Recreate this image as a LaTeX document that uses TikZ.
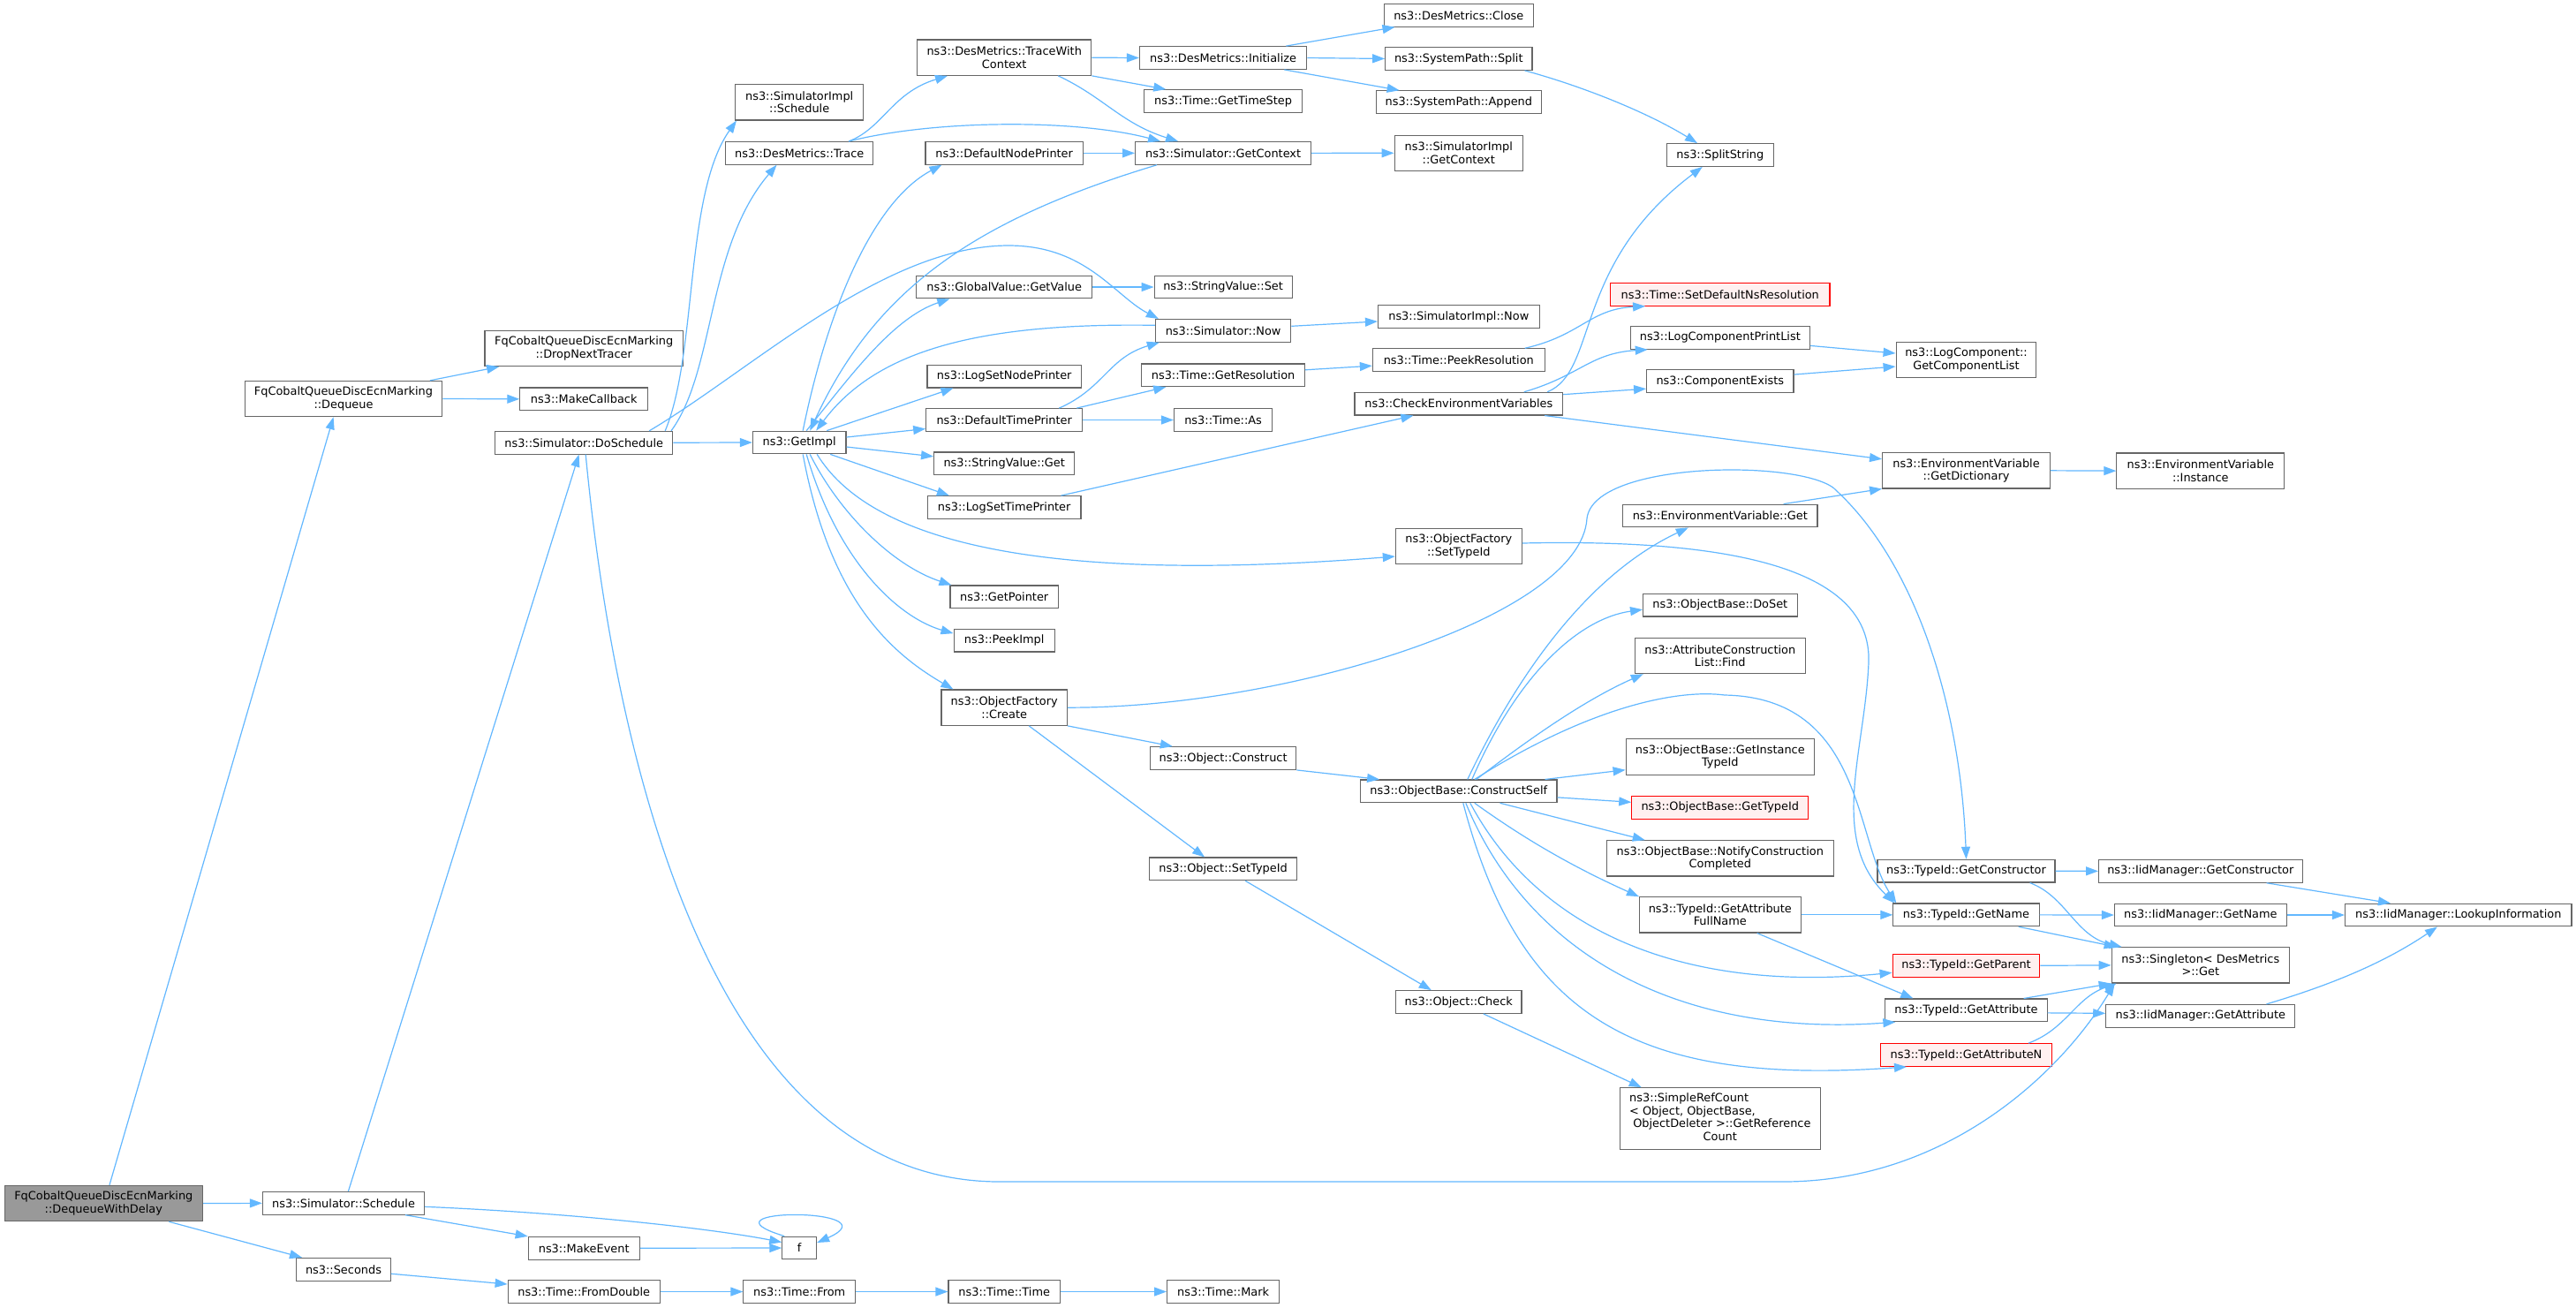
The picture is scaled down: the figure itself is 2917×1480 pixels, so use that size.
\documentclass[tikz,border=0pt]{standalone}
\usepackage{fontspec}
\setmainfont{DejaVu Sans}
\usetikzlibrary{arrows.meta,calc}
\definecolor{edgec}{HTML}{63B8FF}
\definecolor{bordc}{HTML}{666666}
\definecolor{redfill}{HTML}{FFF0F0}
\definecolor{rootfill}{HTML}{999999}
\tikzset{
  box/.style={draw=bordc, line width=0.55pt, fill=white, inner xsep=1pt, inner ysep=0.5pt,
    align=center, font=\fontsize{6.45pt}{7.3pt}\selectfont, text=black},
  rednode/.style={draw=red, fill=redfill},
  rootnode/.style={fill=rootfill},
  conn/.style={draw=edgec, line width=0.6pt, -{Triangle[length=7pt,width=5pt]}},
}
\newcommand\nbox[7][]{\node[box,#1,minimum width={#5*0.5pt},minimum height={#6*0.5pt}] (#2) at (#3,#4) {#7};}
\begin{document}
\begin{tikzpicture}[x=0.5pt,y=-0.5pt]
\fill[white] (0,0) rectangle (2917,1480);
\useasboundingbox (0,0) rectangle (2917,1480);
% nodes
\nbox[rootnode]{root}{117.35}{1362.5}{224.5}{40.4}{FqCobaltQueueDiscEcnMarking\\::DequeueWithDelay}
\nbox{deq}{389}{451.5}{223.4}{40.3}{FqCobaltQueueDiscEcnMarking\\::Dequeue}
\nbox{drop}{661.2}{394.5}{224.5}{40.3}{FqCobaltQueueDiscEcnMarking\\::DropNextTracer}
\nbox{mkcb}{661.2}{451.8}{144.7}{25.7}{ns3::MakeCallback}
\nbox{dosch}{661.2}{501.2}{201}{25.7}{ns3::Simulator::DoSchedule}
\nbox{sched}{389}{1362.3}{183.2}{25.7}{ns3::Simulator::Schedule}
\nbox{mkev}{661.2}{1413.2}{126}{25.7}{ns3::MakeEvent}
\nbox{secs}{389}{1437.2}{106.6}{25.7}{ns3::Seconds}
\nbox{fromd}{661.2}{1462.5}{172}{25.7}{ns3::Time::FromDouble}
\nbox{f}{905.2}{1413}{38.8}{25.7}{f}
\nbox{tfrom}{905.2}{1462.5}{126.6}{25.7}{ns3::Time::From}
\nbox{ttime}{1137.2}{1462.5}{126.5}{25.7}{ns3::Time::Time}
\nbox{tmark}{1385.1}{1462.5}{127.1}{25.7}{ns3::Time::Mark}
\nbox{simpsched}{905.2}{115.85}{145.4}{40.3}{ns3::SimulatorImpl\\::Schedule}
\nbox{trace}{905.2}{173.35}{166.9}{25.7}{ns3::DesMetrics::Trace}
\nbox{twc}{1137.2}{65.15}{197.3}{40.3}{ns3::DesMetrics::TraceWith\\Context}
\nbox{init}{1385.1}{65.5}{189.3}{25.7}{ns3::DesMetrics::Initialize}
\nbox{gts}{1385.1}{114.5}{178.6}{25.7}{ns3::Time::GetTimeStep}
\nbox{dnp}{1137.2}{173.35}{178.5}{25.7}{ns3::DefaultNodePrinter}
\nbox{getctx}{1385.1}{173.35}{199}{25.7}{ns3::Simulator::GetContext}
\nbox{gvget}{1137.2}{325}{198.6}{25.7}{ns3::GlobalValue::GetValue}
\nbox{svset}{1385.1}{325}{156}{25.7}{ns3::StringValue::Set}
\nbox{now}{1385.1}{374.3}{153.4}{25.7}{ns3::Simulator::Now}
\nbox{lsnp}{1137.2}{426.1}{174.4}{25.7}{ns3::LogSetNodePrinter}
\nbox{getres}{1385.1}{424.8}{184.6}{25.7}{ns3::Time::GetResolution}
\nbox{dtp}{1137.2}{475.5}{177}{25.7}{ns3::DefaultTimePrinter}
\nbox{tas}{1385.1}{475.5}{111.2}{25.7}{ns3::Time::As}
\nbox{getimpl}{905.2}{501}{105.6}{25.7}{ns3::GetImpl}
\nbox{svget}{1137.2}{524.8}{159.2}{25.7}{ns3::StringValue::Get}
\nbox{close}{1651.8}{17.3}{169.5}{25.7}{ns3::DesMetrics::Close}
\nbox{spsplit}{1651.8}{66.45}{166.3}{25.7}{ns3::SystemPath::Split}
\nbox{spappend}{1651.8}{115.65}{187.2}{25.7}{ns3::SystemPath::Append}
\nbox{simplctx}{1651.8}{173.3}{145.4}{40.3}{ns3::SimulatorImpl\\::GetContext}
\nbox{splitstr}{1947.8}{175.5}{120.5}{25.7}{ns3::SplitString}
\nbox[rednode]{setdef}{1947.8}{333.3}{248.4}{25.7}{ns3::Time::SetDefaultNsResolution}
\nbox{simplnow}{1651.8}{358.45}{182.6}{25.7}{ns3::SimulatorImpl::Now}
\nbox{lcpl}{1947.8}{382.4}{203.1}{25.7}{ns3::LogComponentPrintList}
\nbox{peekres}{1651.8}{407.65}{194.8}{25.7}{ns3::Time::PeekResolution}
\nbox{getcl}{2226.5}{407.7}{158.8}{40.3}{ns3::LogComponent::\\GetComponentList}
\nbox{compex}{1947.8}{431.65}{166.4}{25.7}{ns3::ComponentExists}
\nbox{cev}{1651.8}{457.15}{235.7}{25.7}{ns3::CheckEnvironmentVariables}
\nbox{getdict}{2226.5}{532.8}{189.8}{40.3}{ns3::EnvironmentVariable\\::GetDictionary}
\nbox{inst}{2491.8}{533.15}{189.9}{40.3}{ns3::EnvironmentVariable\\::Instance}
\nbox{lstp}{1137.2}{574.5}{173.5}{25.7}{ns3::LogSetTimePrinter}
\nbox{getptr}{1137.2}{675.85}{122.4}{25.7}{ns3::GetPointer}
\nbox{peekimpl}{1137.2}{725.15}{114.3}{25.7}{ns3::PeekImpl}
\nbox{create}{1137.2}{801.15}{142.4}{40.3}{ns3::ObjectFactory\\::Create}
\nbox{oconstr}{1385.1}{858.5}{165.4}{25.7}{ns3::Object::Construct}
\nbox{osettid}{1385.1}{983.85}{166.9}{25.7}{ns3::Object::SetTypeId}
\nbox{ofsettid}{1651.8}{618.5}{142.9}{40.3}{ns3::ObjectFactory\\::SetTypeId}
\nbox{evget}{1947.8}{584}{220.4}{25.7}{ns3::EnvironmentVariable::Get}
\nbox{doset}{1947.8}{685.15}{174.5}{25.7}{ns3::ObjectBase::DoSet}
\nbox{acfind}{1947.8}{742.5}{192.9}{40.3}{ns3::AttributeConstruction\\List::Find}
\nbox{gitid}{1947.8}{857}{213.4}{40.3}{ns3::ObjectBase::GetInstance\\TypeId}
\nbox{cself}{1651.8}{895.85}{222.3}{25.7}{ns3::ObjectBase::ConstructSelf}
\nbox[rednode]{gettid}{1947.8}{914.3}{200}{25.7}{ns3::ObjectBase::GetTypeId}
\nbox{notify}{1947.8}{971.85}{257.1}{40.3}{ns3::ObjectBase::NotifyConstruction\\Completed}
\nbox{getctor}{2226.5}{986.15}{201}{25.7}{ns3::TypeId::GetConstructor}
\nbox{gafn}{1947.8}{1035.85}{182.6}{40.3}{ns3::TypeId::GetAttribute\\FullName}
\nbox{getname}{2226.5}{1035.85}{165.3}{25.7}{ns3::TypeId::GetName}
\nbox[rednode]{getparent}{2226.5}{1093.3}{166.8}{25.7}{ns3::TypeId::GetParent}
\nbox{getattr}{2226.5}{1143.85}{183.2}{25.7}{ns3::TypeId::GetAttribute}
\nbox[rednode]{getattrn}{2226.5}{1194.5}{193.9}{25.7}{ns3::TypeId::GetAttributeN}
\nbox{ocheck}{1651.8}{1134.5}{142.4}{25.7}{ns3::Object::Check}
\nbox{srefc}{1947.8}{1266.5}{227}{69.6}{\begin{tabular}{@{}l@{}}ns3::SimpleRefCount\\< Object, ObjectBase,\\\ ObjectDeleter >::GetReference\\\multicolumn{1}{@{}c@{}}{Count}\end{tabular}}
\nbox{iidctor}{2491.8}{986.35}{230.5}{25.7}{ns3::IidManager::GetConstructor}
\nbox{iidname}{2491.8}{1036}{194.8}{25.7}{ns3::IidManager::GetName}
\nbox{lookup}{2783.75}{1036}{256.5}{25.7}{ns3::IidManager::LookupInformation}
\nbox{single}{2491.8}{1092.85}{201.2}{40.3}{ns3::Singleton< DesMetrics\\ >::Get}
\nbox{iidattr}{2491.8}{1150.3}{214.1}{25.7}{ns3::IidManager::GetAttribute}
% connectors
\draw[conn] ($(root.north)+(6.6,0)$) -- ($(deq.south)+(-11.4,0)$);
\draw[conn] (root.east) -- (sched.west);
\draw[conn] ($(root.south)+(74,0)$) -- ($(secs.north)+(-47,0)$);
\draw[conn] ($(deq.north)+(98,0)$) -- ($(drop.south)+(-96,0)$);
\draw[conn] (deq.east) -- (mkcb.west);
\draw[conn] ($(sched.north)+(5.4,0)$) -- ($(dosch.south)+(-5.6,0)$);
\draw[conn] ($(sched.south)+(70,0)$) -- (mkev.north west);
\draw[conn] ($(sched.east)+(0,4)$) .. controls (640,1373) and (800,1390) .. ($(f.west)+(0,-6.5)$);
\draw[conn] (mkev.east) -- (f.west);
\draw[conn] ($(f.north west)+(3,0)$) .. controls (781,1367) and (1015,1367) .. ($(f.east)+(0,-6)$);
\draw[conn] ($(secs.east)+(0,5)$) -- ($(fromd.west)+(0,-8.5)$);
\draw[conn] (fromd.east) -- (tfrom.west);
\draw[conn] (tfrom.east) -- (ttime.west);
\draw[conn] (ttime.east) -- (tmark.west);
\draw[conn] ($(dosch.north)+(92,0)$) .. controls (790,400) and (775,220) .. ($(simpsched.south west)+(2,0)$);
\draw[conn] ($(dosch.north)+(98.8,0)$) .. controls (810,420) and (800,280) .. ($(trace.south)+(-25.7,0)$);
\draw[conn] (dosch.east) -- (getimpl.west);
\draw[conn] ($(dosch.north)+(74,0)$) .. controls (850,420) and (1000,278) .. (1142,278) .. controls (1230,278) and (1262,335) .. ($(now.north west)+(4,0)$);
\draw[conn] ($(dosch.south)+(2,0)$) .. controls (700,900) and (820,1338) .. (1132,1338) -- (2019,1338) .. controls (2200,1338) and (2330,1220) .. ($(single.south west)+(4,0)$);
\draw[conn] ($(getimpl.north)+(4,0)$) .. controls (935,360) and (985,230) .. ($(dnp.south west)+(19,0)$);
\draw[conn] ($(getimpl.north)+(8,0)$) .. controls (960,430) and (1010,360) .. ($(gvget.south west)+(38,0)$);
\draw[conn] ($(getimpl.north)+(31,0)$) -- ($(lsnp.south west)+(30,0)$);
\draw[conn] ($(getimpl.east)+(0,-6)$) -- ($(dtp.west)+(0,10)$);
\draw[conn] ($(getimpl.east)+(0,5)$) -- ($(svget.west)+(0,-8)$);
\draw[conn] ($(getimpl.south)+(35,0)$) -- ($(lstp.north west)+(25,0)$);
\draw[conn] ($(getimpl.south)+(12,0)$) .. controls (950,580) and (1010,640) .. ($(getptr.north west)+(2,0)$);
\draw[conn] ($(getimpl.south)+(8,0)$) .. controls (950,640) and (1020,700) .. ($(peekimpl.west)+(0,-8)$);
\draw[conn] ($(getimpl.south)+(4,0)$) .. controls (940,680) and (1010,740) .. ($(create.north west)+(14,0)$);
\draw[conn] ($(getimpl.south)+(20,0)$) .. controls (990,620) and (1200,660) .. ($(ofsettid.west)+(0,11.5)$);
\draw[conn] ($(getctx.south west)+(25,0)$) .. controls (1100,250) and (990,330) .. ($(getimpl.north)+(12,0)$);
\draw[conn] ($(now.west)+(0,-6)$) .. controls (1100,365) and (990,400) .. ($(getimpl.north)+(19,0)$);
\draw[conn] ($(trace.north)+(56,0)$) .. controls (1000,145) and (1010,105) .. ($(twc.south west)+(35,0)$);
\draw[conn] ($(trace.north)+(56,0)$) .. controls (1060,135) and (1220,135) .. ($(getctx.north west)+(29,0)$);
\draw[conn] (twc.east) -- (init.west);
\draw[conn] (twc.south east) -- ($(gts.north west)+(25,0)$);
\draw[conn] ($(twc.south)+(61,0)$) .. controls (1250,110) and (1270,140) .. ($(getctx.north west)+(49,0)$);
\draw[conn] (dnp.east) -- (getctx.west);
\draw[conn] (getctx.east) -- (simplctx.west);
\draw[conn] ($(init.north east)+(-24,0)$) -- ($(close.south west)+(13,0)$);
\draw[conn] (init.east) -- (spsplit.west);
\draw[conn] ($(init.south east)+(-26,0)$) -- ($(spappend.north west)+(27,0)$);
\draw[conn] ($(spsplit.south east)+(-9,0)$) .. controls (1800,100) and (1870,130) .. ($(splitstr.north west)+(35,0)$);
\draw[conn] (gvget.east) -- (svset.west);
\draw[conn] ($(now.east)+(0,-5)$) -- ($(simplnow.west)+(0,5.5)$);
\draw[conn] ($(dtp.north east)+(-27,0)$) .. controls (1250,440) and (1255,405) .. ($(now.south west)+(5,0)$);
\draw[conn] ($(dtp.north east)+(-7,0)$) -- ($(getres.south west)+(28,0)$);
\draw[conn] (dtp.east) -- (tas.west);
\draw[conn] ($(getres.east)+(0,-6)$) -- ($(peekres.west)+(0,6.5)$);
\draw[conn] ($(peekres.north east)+(-23,0)$) .. controls (1790,380) and (1800,350) .. ($(setdef.south west)+(40,0)$);
\draw[conn] ($(lstp.north east)+(-23,0)$) -- ($(cev.south west)+(67,0)$);
\draw[conn] ($(cev.north east)+(-18,0)$) .. controls (1810,420) and (1780,300) .. ($(splitstr.south)+(-20,0)$);
\draw[conn] ($(cev.north)+(74,0)$) .. controls (1790,425) and (1800,400) .. ($(lcpl.south west)+(20,0)$);
\draw[conn] ($(cev.east)+(0,-10.5)$) -- ($(compex.west)+(0,8.5)$);
\draw[conn] ($(cev.south east)+(-21,0)$) -- ($(getdict.west)+(0,-13)$);
\draw[conn] ($(lcpl.east)+(0,9)$) -- ($(getcl.west)+(0,-7.7)$);
\draw[conn] ($(compex.east)+(0,-7.6)$) -- ($(getcl.west)+(0,7.3)$);
\draw[conn] (getdict.east) -- (inst.west);
\draw[conn] ($(evget.north east)+(-39,0)$) -- (getdict.south west);
\draw[conn] (create.east) .. controls (1450,802) and (1790,700) .. (1797,587) .. controls (1805,520) and (2050,520) .. (2080,556) .. controls (2170,640) and (2220,800) .. (getctor.north);
\draw[conn] (create.south east) -- ($(oconstr.north west)+(26,0)$);
\draw[conn] ($(create.south)+(28,0)$) -- ($(osettid.north west)+(63,0)$);
\draw[conn] ($(ofsettid.east)+(0,-3.5)$) .. controls (1950,610) and (2120,640) .. (2116,750) .. controls (2112,850) and (2070,950) .. ($(getname.north west)+(2,0)$);
\draw[conn] ($(cself.north)+(18,0)$) .. controls (1800,800) and (1900,780) .. (1953,787) .. controls (2110,790) and (2100,950) .. ($(getname.north west)+(4,0)$);
\draw[conn] ($(cself.north)+(10,0)$) .. controls (1720,760) and (1800,650) .. ($(evget.south)+(-36,0)$);
\draw[conn] ($(cself.north)+(15,0)$) .. controls (1720,760) and (1790,700) .. ($(doset.west)+(0,5)$);
\draw[conn] ($(cself.north)+(20,0)$) .. controls (1740,830) and (1800,790) .. ($(acfind.south west)+(10,0)$);
\draw[conn] ($(cself.north east)+(-14,0)$) -- ($(gitid.south west)+(0,-6)$);
\draw[conn] ($(cself.east)+(0,7)$) -- ($(gettid.west)+(0,-6)$);
\draw[conn] ($(cself.south east)+(-65,0)$) -- ($(notify.north west)+(44,0)$);
\draw[conn] ($(cself.south)+(18,0)$) .. controls (1740,960) and (1800,990) .. (gafn.north west);
\draw[conn] ($(cself.south)+(13,0)$) .. controls (1740,1050) and (1900,1125) .. ($(getparent.west)+(0,8)$);
\draw[conn] ($(cself.south)+(8,0)$) .. controls (1730,1080) and (1900,1175) .. ($(getattr.south west)+(12,0)$);
\draw[conn] ($(cself.south)+(5,0)$) .. controls (1720,1150) and (1850,1230) .. ($(getattrn.south west)+(30,0)$);
\draw[conn] (oconstr.south east) -- ($(cself.north west)+(22,0)$);
\draw[conn] ($(osettid.south)+(25,0)$) -- ($(ocheck.north)+(-31,0)$);
\draw[conn] ($(ocheck.south)+(28,0)$) -- ($(srefc.north west)+(25,0)$);
\draw[conn] (gafn.east) -- (getname.west);
\draw[conn] ($(gafn.south east)+(-50,0)$) -- ($(getattr.north west)+(32,0)$);
\draw[conn] (getctor.east) -- (iidctor.west);
\draw[conn] ($(getctor.south east)+(-29,0)$) .. controls (2340,1015) and (2350,1060) .. ($(single.north west)+(12,0)$);
\draw[conn] (getname.east) -- (iidname.west);
\draw[conn] ($(getname.south east)+(-24,0)$) -- ($(single.north west)+(6,0)$);
\draw[conn] (getparent.east) -- (single.west);
\draw[conn] ($(getattr.north east)+(-27,0)$) -- (single.south west);
\draw[conn] ($(getattr.east)+(0,3)$) -- ($(iidattr.west)+(0,-3)$);
\draw[conn] ($(getattrn.north east)+(-27,0)$) .. controls (2340,1165) and (2350,1130) .. ($(single.south west)+(6,0)$);
\draw[conn] ($(iidctor.south east)+(-41,0)$) -- ($(lookup.north west)+(52,0)$);
\draw[conn] (iidname.east) -- (lookup.west);
\draw[conn] ($(iidattr.north east)+(-33,0)$) .. controls (2640,1115) and (2700,1090) .. ($(lookup.south west)+(105,0)$);
\end{tikzpicture}
\end{document}
